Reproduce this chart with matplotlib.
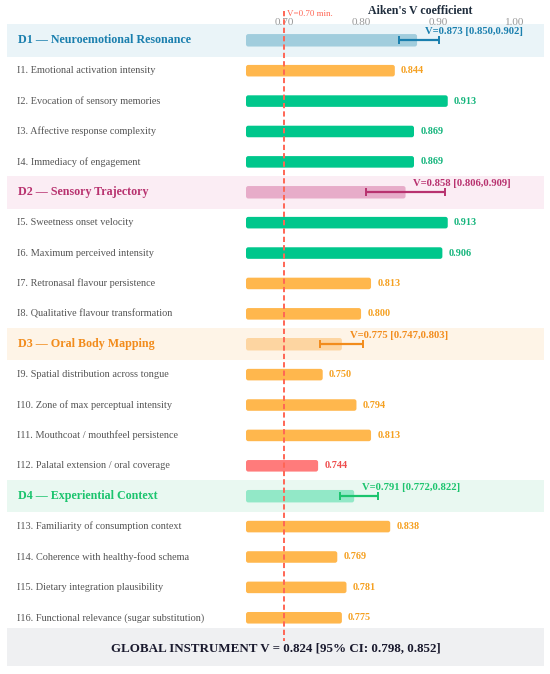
import numpy as np
import matplotlib
matplotlib.use("Agg")
import matplotlib.pyplot as plt
from matplotlib.patches import FancyBboxPatch
import matplotlib.transforms as mtransforms

plt.rcParams['font.family'] = ['Liberation Serif', 'DejaVu Serif']

# ---- data ----
domain_names = ["D1 \u2014 Neuroemotional Resonance", "D2 \u2014 Sensory Trajectory",
                "D3 \u2014 Oral Body Mapping", "D4 \u2014 Experiential Context"]
domain_v = [0.873, 0.858, 0.775, 0.791]
domain_lo = [0.850, 0.806, 0.747, 0.772]
domain_hi = [0.902, 0.909, 0.803, 0.822]

item_labels = [
    ["I1. Emotional activation intensity", "I2. Evocation of sensory memories",
     "I3. Affective response complexity", "I4. Immediacy of engagement"],
    ["I5. Sweetness onset velocity", "I6. Maximum perceived intensity",
     "I7. Retronasal flavour persistence", "I8. Qualitative flavour transformation"],
    ["I9. Spatial distribution across tongue", "I10. Zone of max perceptual intensity",
     "I11. Mouthcoat / mouthfeel persistence", "I12. Palatal extension / oral coverage"],
    ["I13. Familiarity of consumption context", "I14. Coherence with healthy-food schema",
     "I15. Dietary integration plausibility", "I16. Functional relevance (sugar substitution)"],
]
item_v = [
    [0.844, 0.913, 0.869, 0.869],
    [0.913, 0.906, 0.813, 0.800],
    [0.750, 0.794, 0.813, 0.744],
    [0.838, 0.769, 0.781, 0.775],
]
global_v = 0.824
global_ci = (0.798, 0.852)
threshold = 0.70
ticks = [0.70, 0.80, 0.90, 1.00]

# ---- styling ----
dom_text = ["#1a7fae", "#b8326f", "#f28c1c", "#1cc46e"]
dom_bar = ["#9dcbdc", "#e6a9c7", "#fdd49e", "#8ee8c5"]
dom_band = ["#eaf4f8", "#fbedf4", "#fef4e7", "#e9f8f1"]
GREEN, ORANGE, RED = "#00c78c", "#ffb74d", "#ff7b7b"
GREEN_T, ORANGE_T, RED_T = "#14b57c", "#f5a020", "#ee4d4d"

def item_colors(v):
    if v >= 0.85:
        return GREEN, GREEN_T
    if v >= 0.75:
        return ORANGE, ORANGE_T
    return RED, RED_T

X0 = 0.65
fig = plt.figure(figsize=(5.5, 6.74), dpi=100)
ax = fig.add_axes([0, 0, 1, 1])
ax.set_xlim(0.3293, 1.0463)
ax.set_ylim(20.85, -1.326)
ax.axis('off')

# aspect so rounded corners look round: (y units / px) / (x units / px)
asp = (1 / 30.39) / (0.1 / 76.7)
bx = mtransforms.blended_transform_factory(ax.transAxes, ax.transData)

def rbar(y, v, h, color, alpha=1.0):
    p = FancyBboxPatch((X0, y - h / 2), v - X0, h,
                       boxstyle="round,pad=0,rounding_size=0.003",
                       mutation_aspect=asp, fc=color, ec="none", alpha=alpha, zorder=3)
    ax.add_patch(p)

row = 0
for d in range(4):
    ax.axhspan(row - 0.535, row + 0.535, xmin=7 / 550, xmax=544 / 550,
               color=dom_band[d], zorder=0, lw=0)
    ax.text(0.033, row, domain_names[d], transform=bx, ha='left', va='center',
            fontsize=8.65, fontweight='bold', color=dom_text[d])
    rbar(row, domain_v[d], 0.41, dom_bar[d], 0.95)
    ax.errorbar(domain_v[d], row, xerr=[[domain_v[d] - domain_lo[d]], [domain_hi[d] - domain_v[d]]],
                fmt='none', ecolor=dom_text[d], elinewidth=1.6, capsize=3.2, capthick=1.4, zorder=4)
    ax.text(domain_v[d] + 0.010, row - 0.30,
            "V=%.3f [%.3f,%.3f]" % (domain_v[d], domain_lo[d], domain_hi[d]),
            ha='left', va='center', fontsize=7.7, fontweight='bold', color=dom_text[d], zorder=5)
    row += 1
    for lab, v in zip(item_labels[d], item_v[d]):
        c, tc = item_colors(v)
        ax.text(0.031, row, lab, transform=bx, ha='left', va='center',
                fontsize=7.4, color="#555555")
        rbar(row, v, 0.38, c)
        ax.text(v + 0.008, row, "%.3f" % v, ha='left', va='center',
                fontsize=7.3, fontweight='bold', color=tc)
        row += 1

# global summary
ax.axhspan(19.33, 20.58, xmin=7 / 550, xmax=544 / 550, color="#eff0f2", zorder=0, lw=0)
ax.text(0.502, 20.0, "GLOBAL INSTRUMENT V = %.3f [95%% CI: %.3f, %.3f]" % (global_v, *global_ci),
        transform=bx, ha='center', va='center', fontsize=9.4, fontweight='bold', color="#1a1a2e")

# threshold line
ax.plot([threshold, threshold], [-0.96, 19.77], color="#ff6655", lw=1.4,
        ls=(0, (2.7, 1.6)), zorder=6)
ax.text(threshold + 0.004, -0.87, "V=0.70 min.", ha='left', va='center',
        fontsize=6.5, color="#ff6655")

# axis ticks on top
for t in ticks:
    ax.text(t, -0.60, "%.2f" % t, ha='center', va='center', fontsize=8, color="#999999")
ax.text(0.877, -0.96, "Aiken's V coefficient", ha='center', va='center',
        fontsize=8.6, fontweight='bold', color="#1f2d3d")

fig.savefig("out.png", dpi=100)
